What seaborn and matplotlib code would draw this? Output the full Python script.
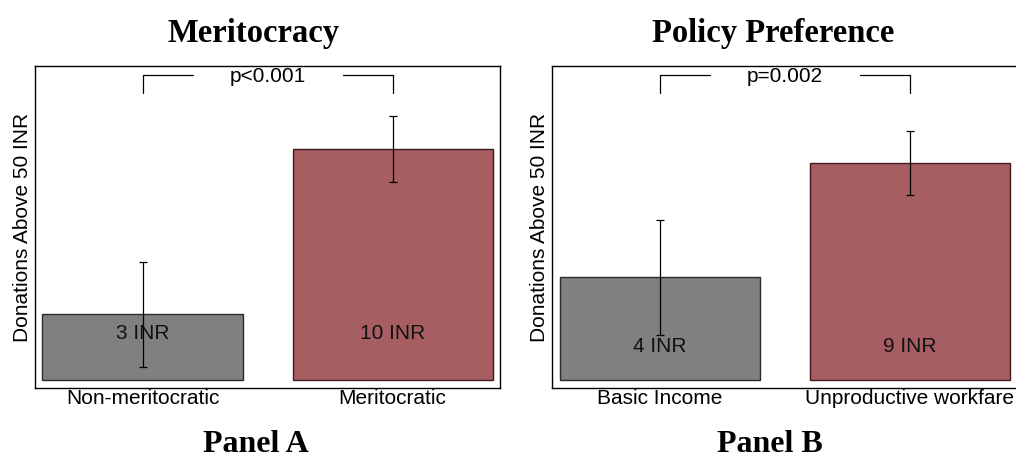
import matplotlib
matplotlib.use("Agg")
import matplotlib.pyplot as plt
import matplotlib.transforms as mtransforms
import seaborn as sns
import pandas as pd

# Panel A: meritocracy treatment
merit_groups = ["Non-meritocratic", "Meritocratic"]
merit_means = [2.9, 10.2]
merit_errs = [2.32, 1.46]
merit_p = "p<0.001"

# Panel B: policy preference treatment
policy_groups = ["Basic Income", "Unproductive workfare"]
policy_means = [4.2, 8.9]
policy_errs = [2.36, 1.32]
policy_p = "p=0.002"

titles = ["Meritocracy", "Policy Preference"]
panel_names = ["Panel A", "Panel B"]
ylabel = "Donations Above 50 INR"
bar_colors = ["#808080", "#A65E62"]
edge_colors = ["#2b2b2b", "#3f1b1e"]

sns.set_theme(style="white")
plt.rcParams["font.family"] = ["Liberation Sans", "DejaVu Sans"]

W, H = 1016, 457
fig = plt.figure(figsize=(W / 100, H / 100), dpi=100)

def px_axes(left, top, width, height):
    return fig.add_axes([left / W, (H - top - height) / H, width / W, height / H])

axes = [px_axes(35, 66, 465, 322), px_axes(552, 66, 465, 322)]

panels = [
    (merit_groups, merit_means, merit_errs, merit_p, (-0.35, 13.86), 0.168),
    (policy_groups, policy_means, policy_errs, policy_p, (-0.33, 12.87), 0.130),
]

for ax, (groups, means, errs, ptext, ylim, label_y) in zip(axes, panels):
    df = pd.DataFrame({"group": groups, "mean": means})
    sns.barplot(data=df, x="group", y="mean", hue="group",
                palette=dict(zip(groups, bar_colors)), saturation=1,
                errorbar=None, legend=False, width=0.8, linewidth=1.0, ax=ax)
    for patch, ec in zip(ax.patches, edge_colors):
        patch.set_edgecolor(ec)

    xs = list(range(len(groups)))
    ax.errorbar(xs, means, yerr=errs, fmt="none", ecolor="black",
                elinewidth=0.9, capsize=2.6, capthick=0.9, zorder=5)

    trans = mtransforms.blended_transform_factory(ax.transData, ax.transAxes)
    for x, m in zip(xs, means):
        ax.text(x, label_y, f"{m:.0f} INR", transform=trans, ha="center",
                va="center", fontsize=15, color="#111111", zorder=6)

    # significance bracket between the two groups
    y_top, y_end = 0.972, 0.916
    ax.plot([xs[0], xs[0], 0.2], [y_end, y_top, y_top], color="black",
            lw=0.9, transform=trans, clip_on=False)
    ax.plot([0.8, xs[1], xs[1]], [y_top, y_top, y_end], color="black",
            lw=0.9, transform=trans, clip_on=False)
    ax.text(0.5, 0.966, ptext, transform=trans, ha="center", va="center",
            fontsize=15, color="black")

    ax.set_xlim(-0.43, 1.43)
    ax.set_ylim(*ylim)
    ax.set_yticks([])
    ax.set_xlabel("")
    ax.set_ylabel(ylabel, fontsize=15, color="black")
    ax.yaxis.set_label_coords(-0.006, 0.5)
    ax.tick_params(axis="x", length=0, pad=1, labelsize=15, labelcolor="black")
    for side in ["left", "right", "top", "bottom"]:
        ax.spines[side].set_visible(True)
        ax.spines[side].set_color("black")
        ax.spines[side].set_linewidth(1.0)

serif = ["Liberation Serif", "DejaVu Serif"]
for xc, t in zip([254, 773], titles):
    fig.text(xc / W, (H - 42) / H, t, ha="center", va="baseline",
             fontsize=23.5, fontweight="bold", family=serif, color="black")
for xc, t in zip([256, 770], panel_names):
    fig.text(xc / W, (H - 452) / H, t, ha="center", va="baseline",
             fontsize=23, fontweight="bold", family=serif, color="black")

fig.savefig("out.png", dpi=100)
